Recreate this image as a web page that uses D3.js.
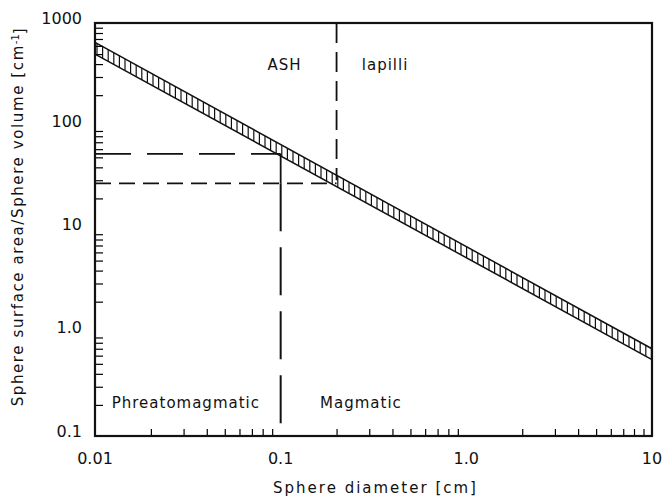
<!DOCTYPE html>
<html>
<head>
<meta charset="utf-8">
<script src="https://cdn.jsdelivr.net/npm/d3@7"></script>
<style>
  body { margin: 0; background: #fff; }
  text { font-family: "DejaVu Sans", sans-serif; fill: #111; }
</style>
</head>
<body>
<div id="plot"></div>
<script>
// axis values
var xTicks = [0.01, 0.1, 1, 10],
    xTickLabels = ["0.01", "0.1", "1.0", "10"],
    yTicks = [0.1, 1, 10, 100, 1000],
    yTickLabels = ["0.1", "1.0", "10", "100", "1000"];

// band edges (sphere diameter, surface/volume)
var bandUpper = [[0.01, 650], [10, 0.70]],
    bandLower = [[0.01, 500], [10, 0.55]];

// dashed guide lines
var guideLong = [[0.01, 54], [0.1, 54]],
    guideShort = [[0.01, 28], [0.2, 28]],
    guideAsh = [[0.2, 1000], [0.2, 30]],
    guideMag = [[0.1, 28], [0.1, 0.1]],
    guideMagSolid = [[0.1, 54], [0.1, 28]];

var labels = [
    { text: "ASH", x: 0.105, y: 390, anchor: "middle" },
    { text: "lapilli", x: 0.365, y: 390, anchor: "middle" },
    { text: "Phreatomagmatic", x: 0.0123, y: 0.21, anchor: "start" },
    { text: "Magmatic", x: 0.163, y: 0.21, anchor: "start" }
];

var W = 662, H = 498;
var m = { left: 95, right: 10, top: 23, bottom: 62 };

var svg = d3.select("#plot").append("svg")
            .attr("width", W).attr("height", H);

var x = d3.scaleLog().domain([0.01, 10]).range([m.left, W - m.right]),
    y = d3.scaleLog().domain([0.1, 1000]).range([H - m.bottom, m.top]);

var line = d3.line().x(function(d){ return x(d[0]); }).y(function(d){ return y(d[1]); });

// band: outline + vertical hatching
var bandPoly = bandUpper.concat(bandLower.slice().reverse());
svg.append("clipPath").attr("id", "bandclip")
    .append("path").attr("d", line(bandPoly) + "Z");

var hatch = svg.append("g").attr("clip-path", "url(#bandclip)");
for (var px = x(0.01) + 2; px < x(10); px += 5.6) {
    hatch.append("line")
        .attr("x1", px).attr("x2", px)
        .attr("y1", m.top).attr("y2", H - m.bottom)
        .attr("stroke", "#111").attr("stroke-width", 1.2);
}
svg.append("path").attr("d", line(bandUpper))
    .attr("fill", "none").attr("stroke", "#111").attr("stroke-width", 1.5);
svg.append("path").attr("d", line(bandLower))
    .attr("fill", "none").attr("stroke", "#111").attr("stroke-width", 1.5);

// guides
function guide(pts, dash, w) {
    svg.append("path").attr("d", line(pts))
        .attr("fill", "none").attr("stroke", "#111")
        .attr("stroke-width", w || 1.8)
        .attr("stroke-dasharray", dash);
}
guide(guideLong, "36,16");
guide(guideShort, "16,8");
guide(guideAsh, "20,9");
guide(guideMagSolid, null);
guide(guideMag, "48,16", 2);

// axes
var xMinor = [], yMinor = [];
[0.01, 0.1, 1].forEach(function(d){ for (var k = 2; k <= 9; k++) xMinor.push(d * k); });
[0.1, 1, 10, 100].forEach(function(d){ for (var k = 2; k <= 9; k++) yMinor.push(d * k); });

svg.append("g").attr("transform", "translate(0," + y(0.1) + ")")
    .call(d3.axisTop(x).tickValues(xMinor).tickSize(7).tickFormat(""))
    .call(function(g){ g.select(".domain").remove(); g.selectAll("line").attr("stroke-width", 1.2); });
svg.append("g").attr("transform", "translate(" + x(0.01) + ",0)")
    .call(d3.axisRight(y).tickValues(yMinor).tickSize(8).tickFormat(""))
    .call(function(g){ g.select(".domain").remove(); g.selectAll("line").attr("stroke-width", 1.2); });

svg.append("rect")
    .attr("x", x(0.01)).attr("y", y(1000))
    .attr("width", x(10) - x(0.01)).attr("height", y(0.1) - y(1000))
    .attr("fill", "none").attr("stroke", "#111").attr("stroke-width", 2.2);

svg.selectAll(".xlab").data(xTicks).enter().append("text")
    .attr("class", "xlab")
    .attr("x", function(d){ return x(d); })
    .attr("y", y(0.1) + 28)
    .attr("text-anchor", "middle")
    .style("font-size", "16px")
    .text(function(d, i){ return xTickLabels[i]; });

svg.selectAll(".ylab").data(yTicks).enter().append("text")
    .attr("class", "ylab")
    .attr("x", x(0.01) - 13)
    .attr("y", function(d){ return y(d) - 5; })
    .attr("dy", "0.35em")
    .attr("text-anchor", "end")
    .style("font-size", "16px")
    .text(function(d, i){ return yTickLabels[i]; });

svg.append("text")
    .attr("x", (x(0.01) + x(10)) / 2 + 2)
    .attr("y", H - 5)
    .attr("text-anchor", "middle")
    .style("font-size", "15px")
    .style("letter-spacing", "2px")
    .text("Sphere diameter [cm]");

var yt = svg.append("text")
    .attr("transform", "translate(23," + ((y(0.1) + y(1000)) / 2 - 13) + ") rotate(-90)")
    .attr("text-anchor", "middle")
    .style("font-size", "15px")
    .style("letter-spacing", "1.6px");
yt.append("tspan").text("Sphere surface area/Sphere volume [cm");
yt.append("tspan").attr("dy", "-0.45em").style("font-size", "10px").style("letter-spacing", "0px").text("-1");
yt.append("tspan").attr("dy", "0.45em").text("]");

svg.selectAll(".lab").data(labels).enter().append("text")
    .attr("class", "lab")
    .attr("x", function(d){ return x(d.x); })
    .attr("y", function(d){ return y(d.y); })
    .attr("dy", "0.35em")
    .attr("text-anchor", function(d){ return d.anchor; })
    .style("font-size", "15px")
    .style("letter-spacing", "1px")
    .text(function(d){ return d.text; });
</script>
</body>
</html>
